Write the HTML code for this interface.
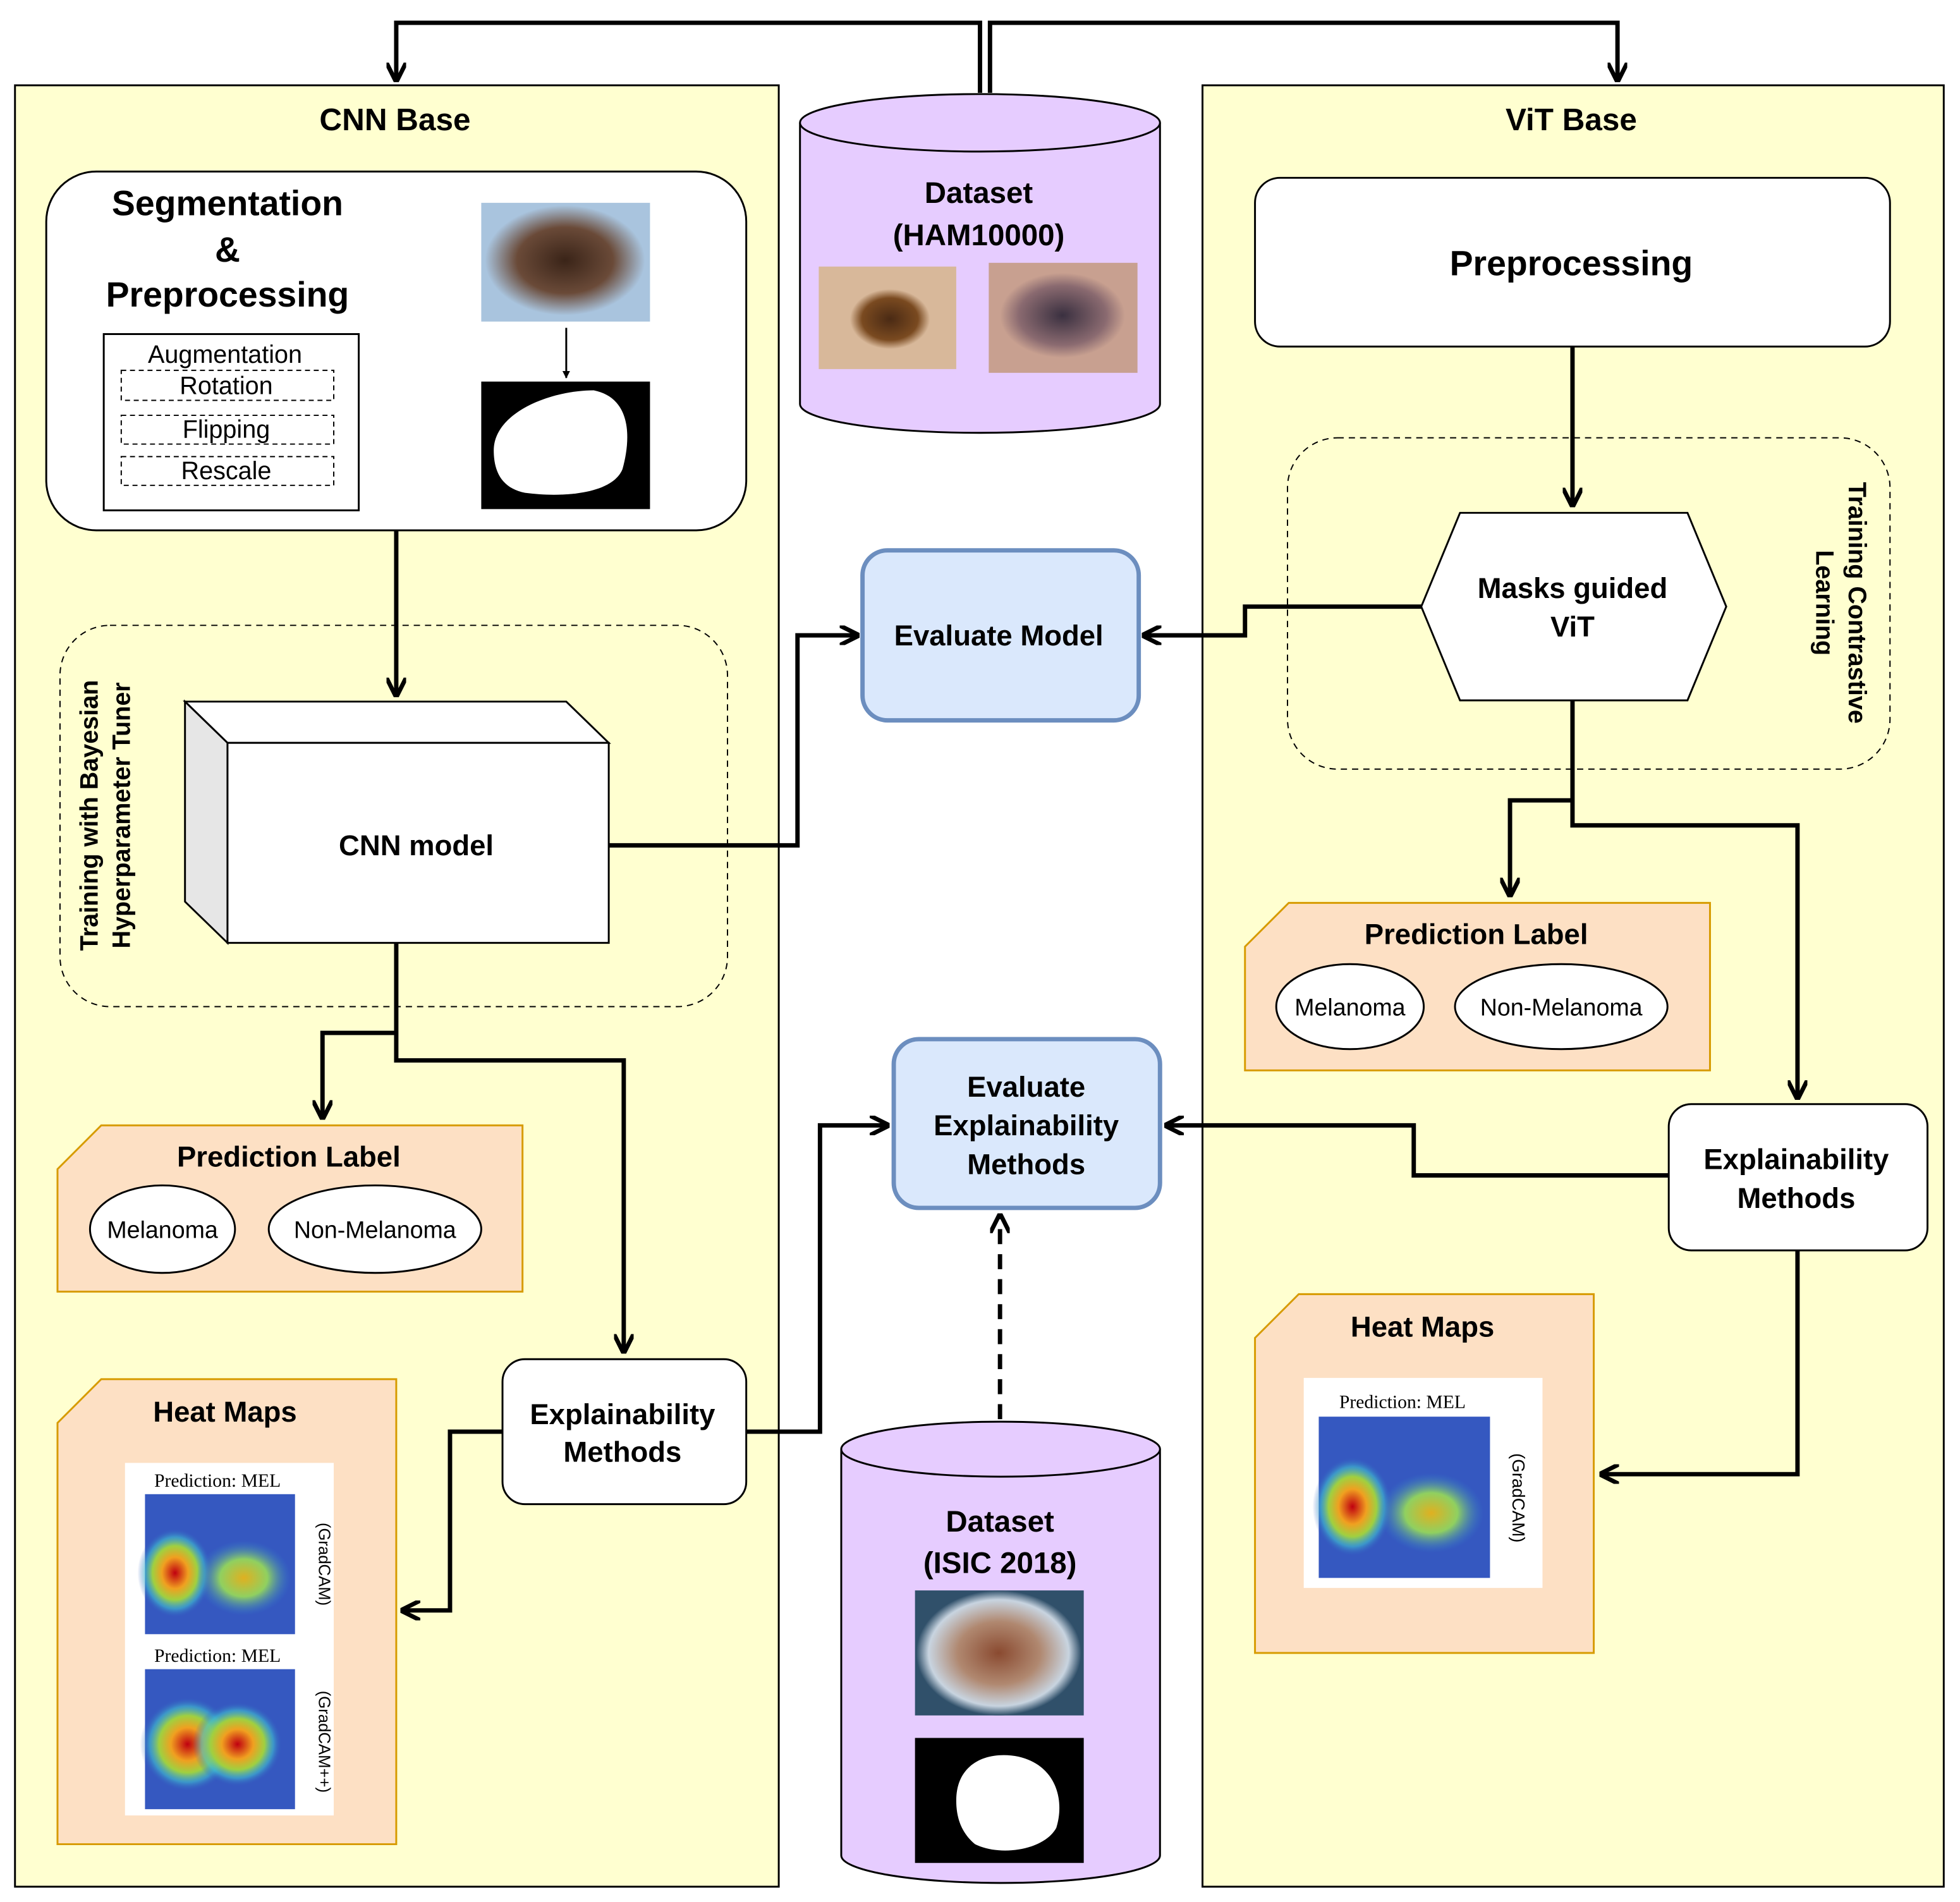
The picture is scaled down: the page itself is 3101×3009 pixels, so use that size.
<!DOCTYPE html>
<html><head><meta charset="utf-8"><style>
html,body{margin:0;padding:0;background:#fff}
svg{display:block}
text{font-family:"Liberation Sans",sans-serif}
.b{font-weight:bold}
.s{font-family:"Liberation Serif",serif}
</style></head><body>
<svg width="3101" height="3009" viewBox="0 0 1568 1521" xmlns="http://www.w3.org/2000/svg">
<defs>
<marker id="ar" viewBox="0 0 10 10" refX="9" refY="5" markerWidth="4.5" markerHeight="4.5" orient="auto"><path d="M0,0 L10,5 L0,10" fill="none" stroke="#000" stroke-width="2.2"/></marker>
<marker id="af" viewBox="0 0 10 10" refX="9" refY="5" markerWidth="4" markerHeight="4" orient="auto"><path d="M0,0 L10,5 L0,10 z" fill="#000"/></marker>
<radialGradient id="les1"><stop offset="0" stop-color="#3a2418"/><stop offset=".6" stop-color="#6a4a38"/><stop offset="1" stop-color="#a9c4de"/></radialGradient>
<radialGradient id="les2"><stop offset="0" stop-color="#4a2a14"/><stop offset=".7" stop-color="#7a4a20"/><stop offset="1" stop-color="#d8b89a"/></radialGradient>
<radialGradient id="les3"><stop offset="0" stop-color="#3a3040"/><stop offset=".7" stop-color="#8a6a70"/><stop offset="1" stop-color="#c8a090"/></radialGradient>
<radialGradient id="les4"><stop offset="0" stop-color="#8a4a30"/><stop offset=".5" stop-color="#b08870"/><stop offset=".85" stop-color="#c8d4e0"/><stop offset="1" stop-color="#30506a"/></radialGradient>
<radialGradient id="hr"><stop offset="0" stop-color="#c00010"/><stop offset=".35" stop-color="#f0a020"/><stop offset=".6" stop-color="#a0d040"/><stop offset=".8" stop-color="#40c0d0" stop-opacity=".6"/><stop offset="1" stop-color="#3050c0" stop-opacity="0"/></radialGradient>
<radialGradient id="hy"><stop offset="0" stop-color="#e0b020"/><stop offset=".5" stop-color="#90d060"/><stop offset="1" stop-color="#3080d0" stop-opacity="0"/></radialGradient>
</defs>

<!-- panels -->
<rect x="12" y="68" width="611" height="1441" fill="#ffffd0" stroke="#000" stroke-width="1.5"/>
<rect x="962" y="68" width="593" height="1441" fill="#ffffd0" stroke="#000" stroke-width="1.5"/>
<text x="316" y="104" font-size="25" text-anchor="middle" class="b">CNN Base</text>
<text x="1257" y="104" font-size="25" text-anchor="middle" class="b">ViT Base</text>

<!-- top arrows -->
<path d="M784,74 V18 H317 V64" fill="none" stroke="#000" stroke-width="3.5" marker-end="url(#ar)"/>
<path d="M792,74 V18 H1294 V64" fill="none" stroke="#000" stroke-width="3.5" marker-end="url(#ar)"/>

<!-- dataset HAM -->
<path d="M640,98 V323 A144,23 0 0 0 928,323 V98" fill="#e6ccff" stroke="#000" stroke-width="1.5"/>
<ellipse cx="784" cy="98" rx="144" ry="23" fill="#e6ccff" stroke="#000" stroke-width="1.5"/>
<text x="783" y="162" font-size="24" text-anchor="middle" class="b">Dataset</text>
<text x="783" y="196" font-size="24" text-anchor="middle" class="b">(HAM10000)</text>
<rect x="655" y="213" width="110" height="82" fill="#d8b89a"/>
<ellipse cx="712" cy="255" rx="32" ry="24" fill="url(#les2)"/>
<rect x="791" y="210" width="119" height="88" fill="#c8a090"/>
<ellipse cx="850" cy="252" rx="50" ry="34" fill="url(#les3)"/>

<!-- segmentation box -->
<rect x="37" y="137" width="560" height="287" rx="40" fill="#fff" stroke="#000" stroke-width="1.5"/>
<text x="182" y="172" font-size="28" text-anchor="middle" class="b">Segmentation</text>
<text x="182" y="209" font-size="28" text-anchor="middle" class="b">&amp;</text>
<text x="182" y="245" font-size="28" text-anchor="middle" class="b">Preprocessing</text>
<rect x="83" y="267" width="204" height="141" fill="#fff" stroke="#000" stroke-width="1.5"/>
<text x="180" y="290" font-size="20" text-anchor="middle">Augmentation</text>
<rect x="97" y="296" width="170" height="24" fill="none" stroke="#000" stroke-dasharray="4,3"/>
<text x="181" y="315" font-size="20" text-anchor="middle">Rotation</text>
<rect x="97" y="332" width="170" height="23" fill="none" stroke="#000" stroke-dasharray="4,3"/>
<text x="181" y="350" font-size="20" text-anchor="middle">Flipping</text>
<rect x="97" y="365" width="170" height="23" fill="none" stroke="#000" stroke-dasharray="4,3"/>
<text x="181" y="383" font-size="20" text-anchor="middle">Rescale</text>
<rect x="385" y="162" width="135" height="95" fill="#a9c4de"/>
<ellipse cx="452" cy="208" rx="64" ry="44" fill="url(#les1)"/>
<path d="M453,262 V302" stroke="#000" stroke-width="1.5" marker-end="url(#af)"/>
<rect x="385" y="305" width="135" height="102" fill="#000"/>
<path d="M395,360 C395,330 440,312 475,312 C505,318 505,350 498,375 C490,395 450,398 420,394 C400,390 395,375 395,360z" fill="#fff"/>

<path d="M317,424 V556" fill="none" stroke="#000" stroke-width="3.5" marker-end="url(#ar)"/>

<!-- training dashed -->
<rect x="48" y="500" width="534" height="305" rx="40" fill="none" stroke="#000" stroke-dasharray="5,4"/>
<text transform="translate(78,652) rotate(-90)" font-size="20" text-anchor="middle" class="b">Training with Bayesian</text>
<text transform="translate(104,652) rotate(-90)" font-size="20" text-anchor="middle" class="b">Hyperparameter Tuner</text>

<!-- cube -->
<polygon points="148,561 453,561 487,594 182,594" fill="#fff" stroke="#000" stroke-width="1.5"/>
<polygon points="148,561 182,594 182,754 148,721" fill="#e6e6e6" stroke="#000" stroke-width="1.5"/>
<rect x="182" y="594" width="305" height="160" fill="#fff" stroke="#000" stroke-width="1.5"/>
<text x="333" y="684" font-size="23" text-anchor="middle" class="b">CNN model</text>

<path d="M487,676 H638 V508 H686" fill="none" stroke="#000" stroke-width="3.5" marker-end="url(#ar)"/>

<!-- Evaluate Model -->
<rect x="690" y="440" width="221" height="136" rx="20" fill="#dae8fc" stroke="#6c8ebf" stroke-width="3.5"/>
<text x="799" y="516" font-size="23" text-anchor="middle" class="b">Evaluate Model</text>

<!-- from cnn down -->
<path d="M317,754 V848 H499 V1081" fill="none" stroke="#000" stroke-width="3.5" marker-end="url(#ar)"/>
<path d="M317,826 H258 V894" fill="none" stroke="#000" stroke-width="3.5" marker-end="url(#ar)"/>

<!-- Prediction label left -->
<polygon points="81,900 418,900 418,1033 46,1033 46,935" fill="#fde0c4" stroke="#d79b00" stroke-width="1.5"/>
<text x="231" y="933" font-size="23" text-anchor="middle" class="b">Prediction Label</text>
<ellipse cx="130" cy="983" rx="58" ry="35" fill="#fff" stroke="#000" stroke-width="1.5"/>
<text x="130" y="990" font-size="19" text-anchor="middle">Melanoma</text>
<ellipse cx="300" cy="983" rx="85" ry="35" fill="#fff" stroke="#000" stroke-width="1.5"/>
<text x="300" y="990" font-size="19" text-anchor="middle">Non-Melanoma</text>

<!-- Explainability left -->
<rect x="402" y="1087" width="195" height="116" rx="18" fill="#fff" stroke="#000" stroke-width="1.5"/>
<text x="498" y="1139" font-size="23" text-anchor="middle" class="b">Explainability</text>
<text x="498" y="1169" font-size="23" text-anchor="middle" class="b">Methods</text>
<path d="M402,1145 H360 V1288 H322" fill="none" stroke="#000" stroke-width="3.5" marker-end="url(#ar)"/>
<path d="M597,1145 H656 V900 H710" fill="none" stroke="#000" stroke-width="3.5" marker-end="url(#ar)"/>

<!-- Heat maps left -->
<polygon points="81,1103 317,1103 317,1475 46,1475 46,1138" fill="#fde0c4" stroke="#d79b00" stroke-width="1.5"/>
<text x="180" y="1137" font-size="23" text-anchor="middle" class="b">Heat Maps</text>
<rect x="100" y="1170" width="167" height="282" fill="#fff"/>
<text x="174" y="1189" font-size="15" text-anchor="middle" class="s">Prediction: MEL</text>
<rect x="116" y="1195" width="120" height="112" fill="#3558c0"/>
<ellipse cx="140" cy="1258" rx="30" ry="36" fill="url(#hr)"/>
<ellipse cx="195" cy="1262" rx="38" ry="30" fill="url(#hy)"/>
<text transform="translate(255,1251) rotate(90)" font-size="13" text-anchor="middle">(GradCAM)</text>
<text x="174" y="1329" font-size="15" text-anchor="middle" class="s">Prediction: MEL</text>
<rect x="116" y="1335" width="120" height="112" fill="#3558c0"/>
<ellipse cx="150" cy="1395" rx="38" ry="38" fill="url(#hr)"/>
<ellipse cx="190" cy="1395" rx="36" ry="34" fill="url(#hr)"/>
<text transform="translate(255,1393) rotate(90)" font-size="13" text-anchor="middle">(GradCAM++)</text>

<!-- Evaluate explainability -->
<rect x="715" y="831" width="213" height="135" rx="20" fill="#dae8fc" stroke="#6c8ebf" stroke-width="3.5"/>
<text x="821" y="877" font-size="23" text-anchor="middle" class="b">Evaluate</text>
<text x="821" y="908" font-size="23" text-anchor="middle" class="b">Explainability</text>
<text x="821" y="939" font-size="23" text-anchor="middle" class="b">Methods</text>
<path d="M800,1135 V972" fill="none" stroke="#000" stroke-width="3.5" stroke-dasharray="12,8" marker-end="url(#ar)"/>

<!-- dataset ISIC -->
<path d="M673,1159 V1484 A127.5,22 0 0 0 928,1484 V1159" fill="#e6ccff" stroke="#000" stroke-width="1.5"/>
<ellipse cx="800.5" cy="1159" rx="127.5" ry="22" fill="#e6ccff" stroke="#000" stroke-width="1.5"/>
<text x="800" y="1225" font-size="24" text-anchor="middle" class="b">Dataset</text>
<text x="800" y="1258" font-size="24" text-anchor="middle" class="b">(ISIC 2018)</text>
<rect x="732" y="1272" width="135" height="100" fill="#30506a"/>
<ellipse cx="799" cy="1322" rx="66" ry="50" fill="url(#les4)"/>
<rect x="732" y="1390" width="135" height="100" fill="#000"/>
<path d="M765,1440 C765,1410 790,1400 815,1405 C845,1412 852,1440 845,1462 C835,1480 800,1485 780,1475 C768,1465 765,1452 765,1440z" fill="#fff"/>

<!-- right side -->
<rect x="1004" y="142" width="508" height="135" rx="20" fill="#fff" stroke="#000" stroke-width="1.5"/>
<text x="1257" y="220" font-size="28" text-anchor="middle" class="b">Preprocessing</text>
<path d="M1258,277 V404" fill="none" stroke="#000" stroke-width="3.5" marker-end="url(#ar)"/>
<rect x="1030" y="350" width="482" height="265" rx="40" fill="none" stroke="#000" stroke-dasharray="5,4"/>
<text transform="translate(1479,482) rotate(90)" font-size="20" text-anchor="middle" class="b">Training Contrastive</text>
<text transform="translate(1453,482) rotate(90)" font-size="20" text-anchor="middle" class="b">Learning</text>
<polygon points="1137,485 1168,410 1350,410 1381,485 1350,560 1168,560" fill="#fff" stroke="#000" stroke-width="1.5"/>
<text x="1258" y="478" font-size="23" text-anchor="middle" class="b">Masks guided</text>
<text x="1258" y="509" font-size="23" text-anchor="middle" class="b">ViT</text>
<path d="M1137,485 H996 V508 H915" fill="none" stroke="#000" stroke-width="3.5" marker-end="url(#ar)"/>
<path d="M1258,560 V660 H1438 V878" fill="none" stroke="#000" stroke-width="3.5" marker-end="url(#ar)"/>
<path d="M1258,640 H1208 V716" fill="none" stroke="#000" stroke-width="3.5" marker-end="url(#ar)"/>

<polygon points="1031,722 1368,722 1368,856 996,856 996,757" fill="#fde0c4" stroke="#d79b00" stroke-width="1.5"/>
<text x="1181" y="755" font-size="23" text-anchor="middle" class="b">Prediction Label</text>
<ellipse cx="1080" cy="805" rx="59" ry="34" fill="#fff" stroke="#000" stroke-width="1.5"/>
<text x="1080" y="812" font-size="19" text-anchor="middle">Melanoma</text>
<ellipse cx="1249" cy="805" rx="85" ry="34" fill="#fff" stroke="#000" stroke-width="1.5"/>
<text x="1249" y="812" font-size="19" text-anchor="middle">Non-Melanoma</text>

<rect x="1335" y="883" width="207" height="117" rx="18" fill="#fff" stroke="#000" stroke-width="1.5"/>
<text x="1437" y="935" font-size="23" text-anchor="middle" class="b">Explainability</text>
<text x="1437" y="966" font-size="23" text-anchor="middle" class="b">Methods</text>
<path d="M1335,940 H1131 V900 H933" fill="none" stroke="#000" stroke-width="3.5" marker-end="url(#ar)"/>
<path d="M1438,1000 V1179 H1281" fill="none" stroke="#000" stroke-width="3.5" marker-end="url(#ar)"/>

<polygon points="1039,1035 1275,1035 1275,1322 1004,1322 1004,1070" fill="#fde0c4" stroke="#d79b00" stroke-width="1.5"/>
<text x="1138" y="1069" font-size="23" text-anchor="middle" class="b">Heat Maps</text>
<rect x="1043" y="1102" width="191" height="168" fill="#fff"/>
<text x="1122" y="1126" font-size="15" text-anchor="middle" class="s">Prediction: MEL</text>
<rect x="1055" y="1133" width="137" height="129" fill="#3558c0"/>
<ellipse cx="1082" cy="1205" rx="32" ry="40" fill="url(#hr)"/>
<ellipse cx="1145" cy="1210" rx="42" ry="32" fill="url(#hy)"/>
<text transform="translate(1210,1198) rotate(90)" font-size="14" text-anchor="middle">(GradCAM)</text>
</svg>
</body></html>
